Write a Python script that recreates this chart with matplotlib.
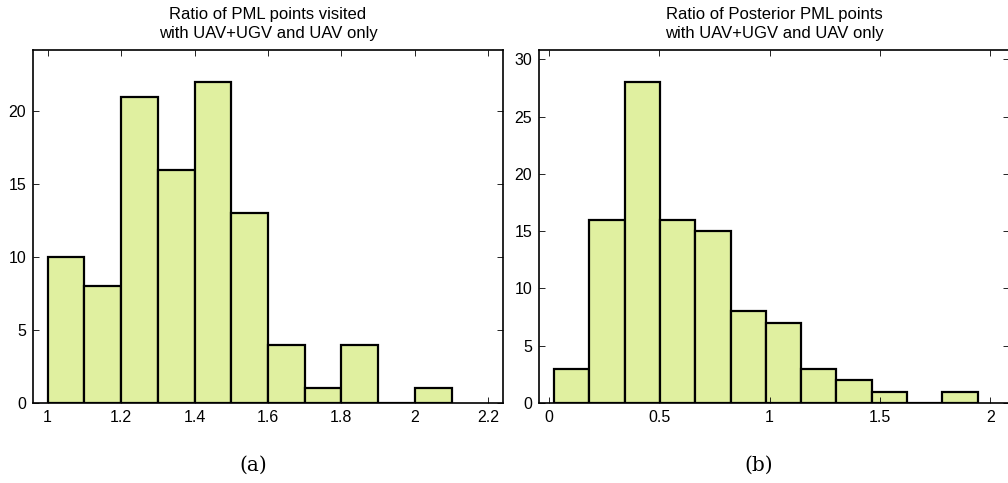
import matplotlib.pyplot as plt

# Panel (a): ratio of PML points visited
a_edges = [1.0, 1.1, 1.2, 1.3, 1.4, 1.5, 1.6, 1.7, 1.8, 1.9, 2.0, 2.1]
a_counts = [10, 8, 21, 16, 22, 13, 4, 1, 4, 0, 1]
a_xticks = [1, 1.2, 1.4, 1.6, 1.8, 2, 2.2]
a_xticklabels = ['1', '1.2', '1.4', '1.6', '1.8', '2', '2.2']
a_yticks = [0, 5, 10, 15, 20]

# Panel (b): ratio of posterior PML points
b_edges = [0.023, 0.183, 0.343, 0.503, 0.663, 0.823, 0.983, 1.143,
           1.303, 1.463, 1.623, 1.783, 1.943]
b_counts = [3, 16, 28, 16, 15, 8, 7, 3, 2, 1, 0, 1]
b_xticks = [0, 0.5, 1, 1.5, 2]
b_xticklabels = ['0', '0.5', '1', '1.5', '2']
b_yticks = [0, 5, 10, 15, 20, 25, 30]

bar_color = '#e0f0a0'
sans = 'Liberation Sans'

fig = plt.figure(figsize=(10.08, 4.83), dpi=100)
ax1 = fig.add_axes([0.0327, 0.1656, 0.4663, 0.7308])
ax2 = fig.add_axes([0.5347, 0.1656, 0.4663, 0.7308])


def draw_hist(ax, edges, counts):
    lefts = edges[:-1]
    widths = [edges[i + 1] - edges[i] for i in range(len(counts))]
    ax.bar(lefts, counts, width=widths, align='edge', color=bar_color,
           edgecolor='black', linewidth=1.6)


draw_hist(ax1, a_edges, a_counts)
ax1.set_xlim(0.96, 2.24)
ax1.set_ylim(0, 24.2)
ax1.set_xticks(a_xticks)
ax1.set_xticklabels(a_xticklabels)
ax1.set_yticks(a_yticks)
ax1.set_title('Ratio of PML points visited\nwith UAV+UGV and UAV only',
              fontsize=12, family=sans, pad=9, linespacing=1.3)

draw_hist(ax2, b_edges, b_counts)
ax2.set_xlim(-0.045, 2.085)
ax2.set_ylim(0, 30.8)
ax2.set_xticks(b_xticks)
ax2.set_xticklabels(b_xticklabels)
ax2.set_yticks(b_yticks)
ax2.set_title('Ratio of Posterior PML points\nwith UAV+UGV and UAV only',
              fontsize=12, family=sans, pad=9, linespacing=1.3)

for ax in (ax1, ax2):
    ax.tick_params(direction='in', top=True, right=True, length=4,
                   width=0.6, labelsize=11.5, pad=5)
    for lbl in ax.get_xticklabels() + ax.get_yticklabels():
        lbl.set_family(sans)
    for s in ax.spines.values():
        s.set_linewidth(1.2)

fig.text(0.251, 0.037, '(a)', ha='center', va='center', fontsize=14.5,
         family='DejaVu Serif')
fig.text(0.753, 0.037, '(b)', ha='center', va='center', fontsize=14.5,
         family='DejaVu Serif')

fig.savefig('out.png', dpi=100)
